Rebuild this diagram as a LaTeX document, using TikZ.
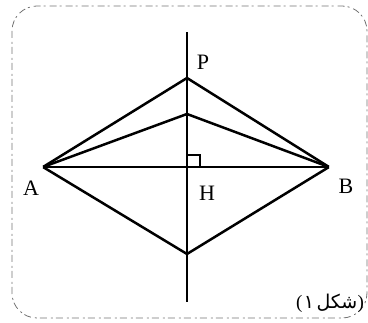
\documentclass[tikz,border=0pt]{standalone}
\usepackage{fontspec}
\setmainfont{Liberation Serif}
\newfontfamily\arabicfont[Script=Arabic]{DejaVu Sans}
\TeXXeTstate=1
\begin{document}
\begin{tikzpicture}[x=1pt,y=-1pt,
  seg/.style={line width=2.5pt, line join=miter},
  axis/.style={line width=2.1pt},
  frame/.style={draw=black!55, line width=0.8pt, dash pattern=on 7pt off 4pt on 2pt off 3pt, rounded corners=25pt},
  lbl/.style={font=\fontsize{22}{25}\selectfont, inner sep=0pt},
  captext/.style={font=\fontsize{19}{22}\selectfont, inner sep=0pt, anchor=base west},
  pt/.style={inner sep=0pt, minimum size=0pt}]
\useasboundingbox (0,0) rectangle (368,323);
\draw[frame] (12,6) rectangle (367,318);
\node[pt] (T) at (187,32) {};
\node[pt] (Bt) at (187,302) {};
\node[pt] (P) at (187,78) {};
\node[pt] (Q) at (187,114) {};
\node[pt] (A) at (43,167) {};
\node[pt] (B) at (329,167) {};
\node[pt] (D) at (187,254) {};
\node[pt] (H) at (187,167) {};
\draw[axis] (T) -- (Bt);
\draw[seg] (A) -- (P) -- (B);
\draw[seg] (B) -- (D) -- (A);
\draw[seg] (A) -- (Q) -- (B);
\draw[seg] (A) -- (B);
\coordinate (R1) at (187,155);
\coordinate (R2) at (200,155);
\coordinate (R3) at (200,167);
\draw[line width=2pt] (R1) -- (R2) -- (R3);
\node[lbl] (lP) at (203,62) {P};
\node[lbl] (lA) at (31,188) {A};
\node[lbl] (lH) at (207,193) {H};
\node[lbl] (lB) at (346,186) {B};
\node[captext] (c1) at (296,309) {(};
\node[captext] (c2) at ([xshift=1pt]c1.base east) {\arabicfont ١};
\node[captext] (c3) at ([xshift=2pt]c2.base east) {\arabicfont\beginR شکل\endR};
\node[captext] (c4) at (c3.base east) {)};
\end{tikzpicture}
\end{document}
